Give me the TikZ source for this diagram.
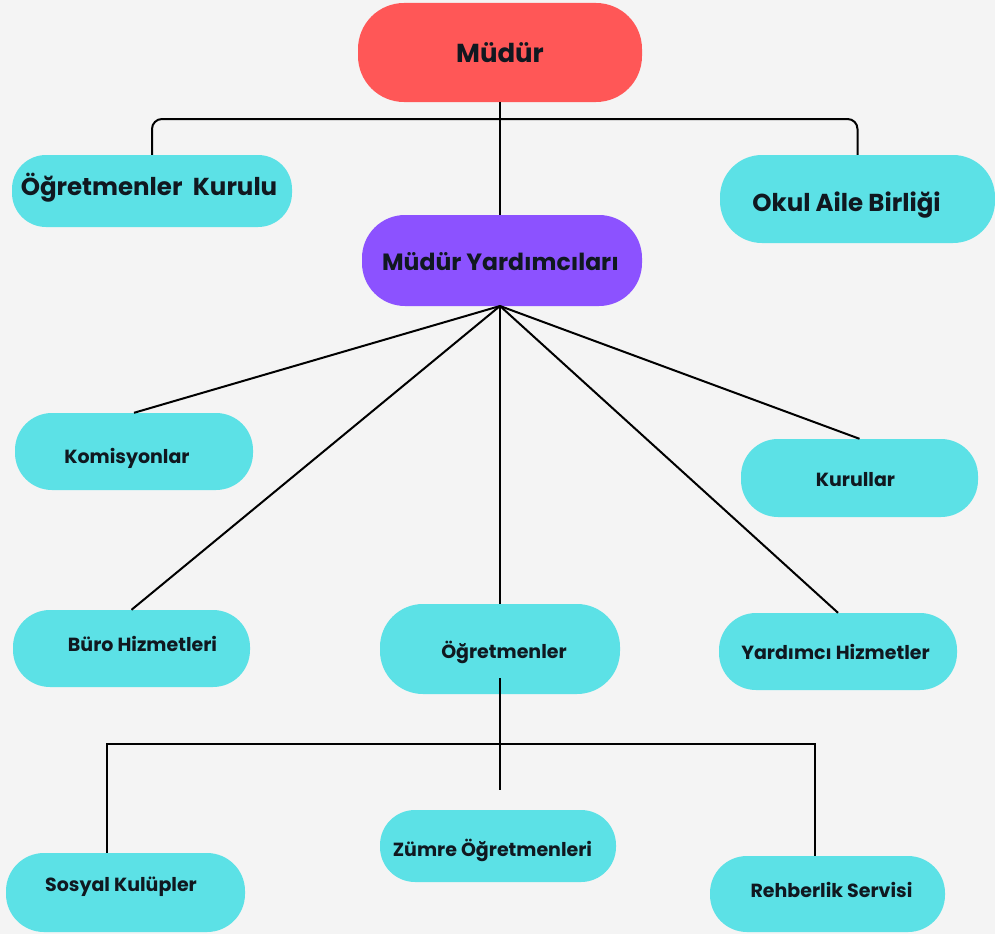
\documentclass[tikz,border=0pt]{standalone}
\usepackage{fontspec}
\setmainfont{Poppins}
\definecolor{bgc}{HTML}{F4F4F4}
\definecolor{redc}{HTML}{FF5757}
\definecolor{purc}{HTML}{8C52FF}
\definecolor{cyac}{HTML}{5CE1E6}
\definecolor{txtc}{HTML}{101820}
\begin{document}
\begin{tikzpicture}[x=1pt,y=-1pt,
  box/.style={fill=#1, draw=none, inner sep=0pt},
  txt/.style={text=txtc, font=\bfseries\fontsize{19}{22}\selectfont, inner sep=0pt},
  bigtxt/.style={text=txtc, font=\bfseries\fontsize{24.5}{28}\selectfont, inner sep=0pt},
  conn/.style={draw=black, line width=2pt}]
\fill[bgc] (0,0) rectangle (995,934);
\useasboundingbox (0,0) rectangle (995,934);

% top level
\node[box=redc, minimum width=284pt, minimum height=99pt, rounded corners=46pt,
  label={[bigtxt, font=\bfseries\fontsize{26}{30}\selectfont]center:Müdür}] (mudur) at (500,52.5) {};
\node[box=cyac, minimum width=280pt, minimum height=72pt, rounded corners=34pt,
  label={[bigtxt, xshift=-3pt, yshift=3pt]center:Öğretmenler\ \ Kurulu}] (ogk) at (152,191) {};
\node[box=cyac, minimum width=275pt, minimum height=88pt, rounded corners=42pt,
  label={[bigtxt, xshift=-11pt, yshift=-6pt]center:Okul Aile Birliği}] (oab) at (857.5,199) {};
\node[box=purc, minimum width=280pt, minimum height=91pt, rounded corners=43pt,
  label={[bigtxt, font=\bfseries\fontsize{23.5}{27}\selectfont, xshift=-1.5pt, yshift=-1.5pt]center:Müdür Yardımcıları}] (my) at (502,260.5) {};

% second level
\node[box=cyac, minimum width=238pt, minimum height=77pt, rounded corners=37pt,
  label={[txt, xshift=-7pt, yshift=-7pt]center:Komisyonlar}] (kom) at (134,451.5) {};
\node[box=cyac, minimum width=237pt, minimum height=78pt, rounded corners=37pt,
  label={[txt, xshift=-4pt, yshift=-2pt]center:Kurullar}] (kur) at (859.5,478) {};
\node[box=cyac, minimum width=237pt, minimum height=77pt, rounded corners=37pt,
  label={[txt, xshift=11pt, yshift=5pt]center:Büro Hizmetleri}] (buro) at (131.5,648.5) {};
\node[box=cyac, minimum width=240pt, minimum height=90pt, rounded corners=43pt,
  label={[txt, xshift=4pt, yshift=-3pt]center:Öğretmenler}] (ogr) at (500,649) {};
\node[box=cyac, minimum width=238pt, minimum height=77pt, rounded corners=37pt,
  label={[txt, xshift=-2.5pt]center:Yardımcı Hizmetler}] (yar) at (838,651.5) {};

% third level
\node[box=cyac, minimum width=236pt, minimum height=72pt, rounded corners=35pt,
  label={[txt, xshift=-5.5pt, yshift=-4pt]center:Zümre Öğretmenleri}] (zum) at (498,846) {};
\node[box=cyac, minimum width=239pt, minimum height=79pt, rounded corners=38pt,
  label={[txt, xshift=-4.5pt, yshift=5.5pt]center:Sosyal Kulüpler}] (sos) at (125.5,892.5) {};
\node[box=cyac, minimum width=235pt, minimum height=76pt, rounded corners=37pt,
  label={[txt, xshift=4pt, yshift=4pt]center:Rehberlik Servisi}] (reh) at (827.5,894) {};

% connectors
\coordinate (tbar) at (500,119);
\draw[conn] (mudur.south) -- (mudur.south |- my.north);
\draw[conn, rounded corners=10pt] (ogk.north) |- (tbar) -| (oab.north);

\coordinate (apex) at (500,306);
\draw[conn] (apex) -- (kom.north);
\draw[conn] (apex) -- (buro.north);
\draw[conn] (apex) -- (ogr.north);
\draw[conn] (apex) -- (yar.north);
\draw[conn] (apex) -- (kur.north);

\coordinate (ostub) at (500,678);
\coordinate (oend) at (500,790);
\coordinate (bl) at (107,744);
\coordinate (br) at (815,744);
\draw[conn] (ostub) -- (oend);
\draw[conn] (bl |- sos.north) -- (bl) -- (br) -- (br |- reh.north);
\end{tikzpicture}
\end{document}
